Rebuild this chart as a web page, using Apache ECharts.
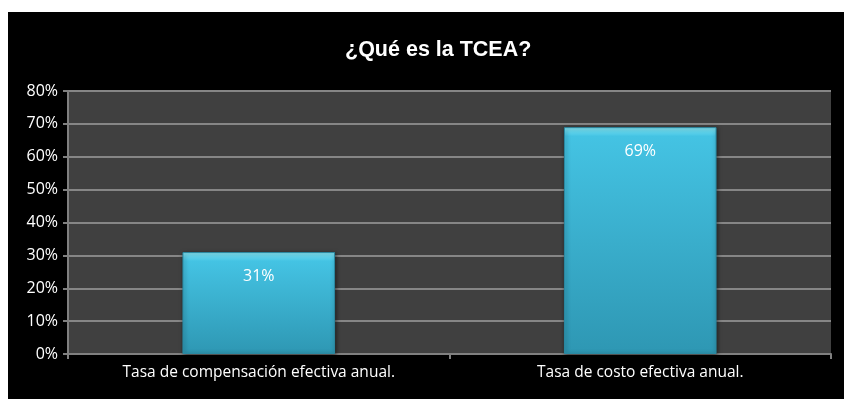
<!DOCTYPE html>
<html>
<head>
<meta charset="utf-8">
<script src="https://cdn.jsdelivr.net/npm/echarts@6/dist/echarts.min.js"></script>
<style>
  html, body { margin: 0; padding: 0; background: #ffffff; }
  #chart { position: absolute; left: 8px; top: 12px; width: 836px; height: 387px; background: #000000; }
</style>
</head>
<body>
<div id="chart"></div>
<script>
// Survey answers: what does TCEA stand for?
const chartTitle = '¿Qué es la TCEA?';
const categories = ['Tasa de compensación efectiva anual.', 'Tasa de costo efectiva anual.'];
const shares = [31, 69];
const yTicks = { min: 0, max: 80, step: 10 };

const chart = echarts.init(document.getElementById('chart'), null, { renderer: 'canvas' });

// Plot height in px, used to keep the bevel highlight a constant thickness
const plotHeight = 263;
const bevelPx = 9;

function bevelFill(value) {
  const barPx = value / yTicks.max * plotHeight;
  const edge = Math.min(0.5, bevelPx / barPx);
  return new echarts.graphic.LinearGradient(0, 0, 0, 1, [
    { offset: 0, color: '#8ceaf8' },
    { offset: edge * 0.5, color: '#62d6ee' },
    { offset: edge, color: '#44c3e3' },
    { offset: 1, color: '#2e97b3' }
  ]);
}

chart.setOption({
  backgroundColor: '#000000',
  animation: false,
  title: {
    text: chartTitle,
    left: 332,
    top: 22,
    textStyle: { color: '#ffffff', fontFamily: 'Liberation Sans, Arial', fontSize: 21.5, fontWeight: 'bold' }
  },
  grid: {
    left: 60, right: 13, top: 79, bottom: 45,
    show: true, backgroundColor: '#404040', borderWidth: 0
  },
  xAxis: {
    type: 'category',
    data: categories,
    axisLine: { show: true, lineStyle: { color: '#808080', width: 2 } },
    axisTick: { show: true, alignWithLabel: false, length: 5, lineStyle: { color: '#808080', width: 2 } },
    axisLabel: { color: '#ffffff', fontFamily: 'Open Sans', fontSize: 15.5, margin: 11 },
    splitLine: { show: false }
  },
  yAxis: {
    type: 'value',
    min: yTicks.min, max: yTicks.max, interval: yTicks.step,
    axisLine: { show: true, lineStyle: { color: '#808080', width: 2 } },
    axisTick: { show: true, length: 5, lineStyle: { color: '#808080', width: 2 } },
    axisLabel: { color: '#ffffff', fontFamily: 'Open Sans', fontSize: 16, margin: 10, formatter: '{value}%' },
    splitLine: { show: true, lineStyle: { color: '#868686', width: 2 } }
  },
  series: [{
    type: 'bar',
    data: shares.map(v => ({ value: v, itemStyle: { color: bevelFill(v) } })),
    barWidth: '40%',
    itemStyle: {
      borderColor: '#2a8aa3',
      borderWidth: 1,
      shadowColor: 'rgba(0,0,0,0.5)',
      shadowBlur: 4,
      shadowOffsetX: 1,
      shadowOffsetY: 1
    },
    label: {
      show: true,
      position: 'insideTop',
      distance: 16,
      color: '#ffffff',
      fontFamily: 'Open Sans',
      fontSize: 16,
      formatter: '{c}%'
    }
  }]
});
</script>
</body>
</html>
